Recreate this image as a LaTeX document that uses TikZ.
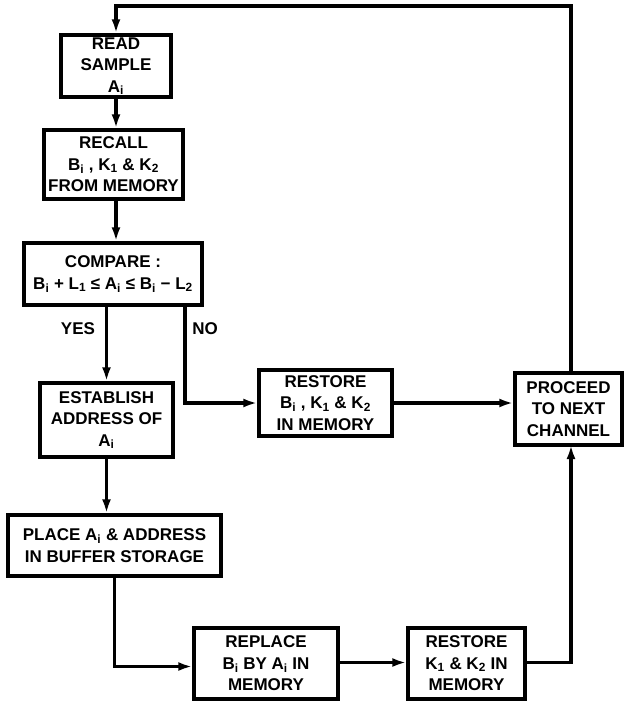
\documentclass[tikz,border=0pt]{standalone}
\usepackage{fontspec}
\setmainfont{Liberation Sans}
\usetikzlibrary{arrows.meta}
\newcommand{\lsub}[1]{\textsubscript{#1}}
\begin{document}
\begin{tikzpicture}[x=1pt,y=1pt,
  box/.style={draw, line width=3.4pt, inner sep=0pt, align=center,
    font=\fontsize{17}{21.5}\selectfont\bfseries},
  conn/.style={line width=3.2pt},
  arr/.style={conn, -{Latex[length=14pt,width=9pt]}},
  lbl/.style={font=\fontsize{17}{21}\selectfont\bfseries}]
\useasboundingbox (0,0) rectangle (624,-701);
\node[box, minimum width=110, minimum height=62] (read) at (116,-66) {READ\\SAMPLE\\A\lsub{i}};
\node[box, minimum width=139, minimum height=69] (recall) at (113.5,-164.5) {RECALL\\B\lsub{i} , K\lsub{1} \& K\lsub{2}\\FROM MEMORY};
\node[box, minimum width=178, minimum height=62] (compare) at (113,-274) {COMPARE :\\B\lsub{i} + L\lsub{1} ≤ A\lsub{i} ≤ B\lsub{i} − L\lsub{2}};
\node[box, minimum width=133, minimum height=74] (establish) at (106.5,-420) {ESTABLISH\\ADDRESS OF\\A\lsub{i}};
\node[box, minimum width=213, minimum height=61] (place) at (114.5,-545.5) {PLACE A\lsub{i} \& ADDRESS\\IN BUFFER STORAGE};
\node[box, minimum width=133, minimum height=66] (restoreA) at (325.5,-403) {RESTORE\\B\lsub{i} , K\lsub{1} \& K\lsub{2}\\IN MEMORY};
\node[box, minimum width=107, minimum height=72] (proceed) at (568.5,-409) {PROCEED\\TO NEXT\\CHANNEL};
\node[box, minimum width=144, minimum height=71] (replace) at (266,-663.5) {REPLACE\\B\lsub{i} BY A\lsub{i} IN\\MEMORY};
\node[box, minimum width=117, minimum height=71] (restoreB) at (466.5,-663.5) {RESTORE\\K\lsub{1} \& K\lsub{2} IN\\MEMORY};
\node[lbl] (yes) at (78,-329) {YES};
\node[lbl] (no) at (205,-329) {NO};
\coordinate (topR) at (571,-6);
\coordinate (noStart) at (185,-305);
\coordinate (inB) at (571,-445);
% connectors
\draw[arr] ([xshift=2.5]proceed.north) -- (topR) -| (read.north);
\draw[arr] (read.south) -- (read.south |- recall.north);
\draw[arr] (read.south |- recall.south) -- (read.south |- compare.north);
\draw[arr] (establish.north |- compare.south) -- (establish.north);
\draw[arr] (noStart) |- (restoreA.west);
\draw[arr] (restoreA.east) -- (restoreA.east -| proceed.west);
\draw[arr] (establish.south) -- (establish.south |- place.north);
\draw[arr] (place.south) |- ([yshift=-3]replace.west);
\draw[arr] ([yshift=1]replace.east) -- ([yshift=1]restoreB.west);
\draw[arr] ([yshift=1]restoreB.east) -| (inB);
\end{tikzpicture}
\end{document}
